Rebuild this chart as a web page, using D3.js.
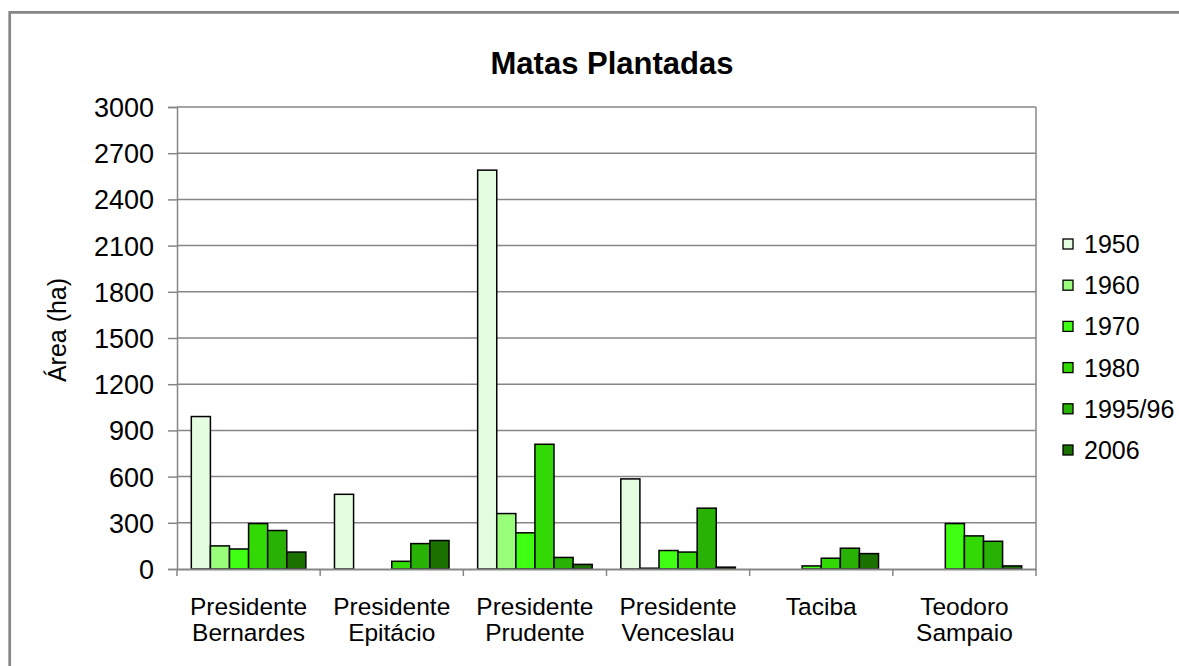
<!DOCTYPE html>
<html><head><meta charset="utf-8">
<script src="https://cdn.jsdelivr.net/npm/d3@7"></script>
<style>
html,body{margin:0;padding:0;background:#fff;}
svg text{font-family:"Liberation Sans",Arial,sans-serif;fill:#000;}
</style></head>
<body><svg id="chart" width="1179" height="666"></svg>
<script>
const categories = ["Presidente Bernardes","Presidente Epitácio","Presidente Prudente","Presidente Venceslau","Taciba","Teodoro Sampaio"];
const seriesNames = ["1950","1960","1970","1980","1995/96","2006"];
const s1950 = [990, 485, 2590, 585, 0, 0];
const s1960 = [150, 0, 360, 5, 0, 0];
const s1970 = [130, 0, 235, 120, 20, 295];
const s1980 = [295, 50, 810, 110, 70, 215];
const s1995 = [250, 165, 75, 395, 135, 180];
const s2006 = [110, 185, 30, 12, 100, 20];
const yTicks = [0,300,600,900,1200,1500,1800,2100,2400,2700,3000];
const colors = ["#e4fde0","#99ff7a","#3fff12","#32d905","#28b205","#1b7200"];
const title = "Matas Plantadas";
const yLabel = "Área (ha)";

const allSeries = [s1950,s1960,s1970,s1980,s1995,s2006];
const svg = d3.select("#chart");
const L = 177, R = 1036, T = 107, B = 569;

// outer border
svg.append("path").attr("d","M9.7,666 V12.3 H1179").attr("fill","none").attr("stroke","#868686").attr("stroke-width",2.7);

const x0 = d3.scaleBand().domain(categories).range([L,R]).padding(0);
const x1 = d3.scaleBand().domain(seriesNames).range([x0.bandwidth()*0.1, x0.bandwidth()*0.9]).padding(0);
const y = d3.scaleLinear().domain([0,3000]).range([B,T]);

// gridlines
svg.append("g").selectAll("line").data(yTicks.filter(d=>d>0)).join("line")
  .attr("x1",L).attr("x2",R).attr("y1",d=>y(d)).attr("y2",d=>y(d))
  .attr("stroke","#868686").attr("stroke-width",1.5);
// right border of plot
svg.append("line").attr("x1",R).attr("x2",R).attr("y1",T).attr("y2",B).attr("stroke","#868686").attr("stroke-width",1.5);

// y axis
const yAxis = svg.append("g").attr("transform",`translate(${L},0)`)
  .call(d3.axisLeft(y).tickValues(yTicks).tickSize(9).tickPadding(14).tickFormat(d3.format("d")));
yAxis.select(".domain").attr("stroke","#868686").attr("stroke-width",1.5);
yAxis.selectAll(".tick line").attr("stroke","#868686").attr("stroke-width",1.5);
yAxis.selectAll("text").style("font-size","27px").attr("dy","0.35em");

// bars
const rows = categories.map((c,i)=>({cat:c, vals: seriesNames.map((s,j)=>({s, v: allSeries[j][i], c: colors[j]}))}));
const g = svg.append("g").selectAll("g").data(rows).join("g").attr("transform",d=>`translate(${x0(d.cat)},0)`);
g.selectAll("rect").data(d=>d.vals.filter(v=>v.v>0)).join("rect")
  .attr("x",d=>x1(d.s)).attr("width",x1.bandwidth())
  .attr("y",d=>y(d.v)).attr("height",d=>B-y(d.v))
  .attr("fill",d=>d.c).attr("stroke","#000").attr("stroke-width",1.5);

// x axis
const xAxis = svg.append("g").attr("transform",`translate(0,${B})`)
  .call(d3.axisBottom(x0).tickSize(0).tickFormat(""));
xAxis.select(".domain").attr("stroke","#868686").attr("stroke-width",2.2);
svg.append("g").selectAll("line").data(d3.range(categories.length+1)).join("line")
  .attr("x1",i=>L+i*x0.bandwidth()).attr("x2",i=>L+i*x0.bandwidth())
  .attr("y1",B).attr("y2",B+7).attr("stroke","#868686").attr("stroke-width",1.5);

// category labels
const cl = svg.append("g").selectAll("text").data(categories).join("text")
  .attr("x",d=>x0(d)+x0.bandwidth()/2).attr("y",615)
  .attr("text-anchor","middle").style("font-size","24.5px");
cl.selectAll("tspan").data(d=>d.split(" ")).join("tspan")
  .attr("x",function(){return d3.select(this.parentNode).attr("x");})
  .attr("dy",(d,i)=>i===0?0:26).text(d=>d);

// title
svg.append("text").attr("x",612).attr("y",74).attr("text-anchor","middle")
  .style("font-size","31px").style("font-weight","bold").text(title);

// y label
svg.append("text").attr("transform","translate(66,330) rotate(-90)").attr("text-anchor","middle")
  .style("font-size","25px").text(yLabel);

// legend
const lg = svg.append("g").selectAll("g").data(seriesNames).join("g")
  .attr("transform",(d,i)=>`translate(1063,${244+i*41.2})`);
lg.append("rect").attr("x",0).attr("y",-5).attr("width",10).attr("height",10)
  .attr("fill",(d,i)=>colors[i]).attr("stroke","#000").attr("stroke-width",1.3);
lg.append("text").attr("x",21).attr("y",0).attr("dy","0.36em").style("font-size","25px").text(d=>d);
</script></body></html>
